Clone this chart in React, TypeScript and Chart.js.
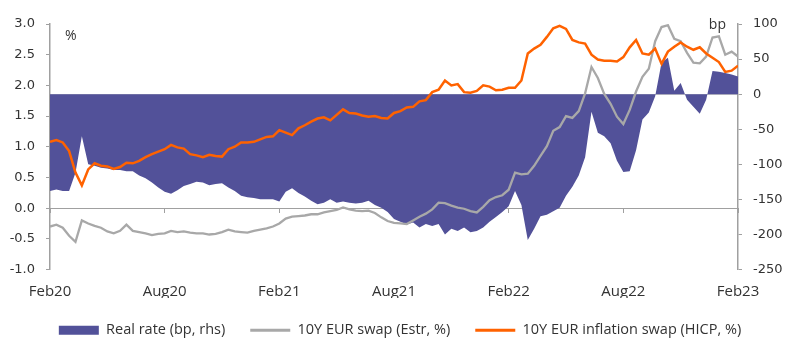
import React, { useEffect, useRef } from "react";
import { Chart, registerables } from "chart.js";

Chart.register(...registerables);

// Three samples per month, from early Feb 2020 to early Feb 2023
const SAMPLES_PER_MONTH = 3;
const TICK_LABELS = ["Feb20", "Aug20", "Feb21", "Aug21", "Feb22", "Aug22", "Feb23"];
const TICK_EVERY_MONTHS = 6;

const SERIES_LABELS = [
  "Real rate (bp, rhs)",
  "10Y EUR swap (Estr, %)",
  "10Y EUR inflation swap (HICP, %)",
];

const REAL_RATE_BP = [
  -138, -136, -138, -138, -112, -60, -100, -102, -105, -106,
  -108, -108, -110, -110, -116, -120, -126, -133, -139, -142,
  -137, -131, -128, -125, -126, -130, -128, -127, -133, -138,
  -145, -147, -148, -150, -150, -150, -153, -139, -134, -141,
  -146, -152, -157, -155, -150, -155, -153, -155, -156, -155,
  -152, -158, -162, -168, -178, -182, -186, -183, -190, -185,
  -188, -185, -200, -192, -195, -190, -197, -195, -190, -182,
  -175, -168, -160, -138, -158, -208, -192, -174, -172, -167,
  -162, -145, -132, -116, -90, -25, -55, -60, -70, -95,
  -111, -110, -80, -36, -26, -3, 45, 52, 5, 16,
  -8, -18, -28, -8, 33, 32, 30, 28, 25,
];

const SWAP_10Y = [
  -0.30, -0.27, -0.32, -0.45, -0.55, -0.20, -0.25, -0.29, -0.32, -0.38,
  -0.41, -0.37, -0.27, -0.37, -0.39, -0.41, -0.44, -0.42, -0.41, -0.37,
  -0.39, -0.38, -0.40, -0.41, -0.41, -0.43, -0.42, -0.39, -0.35, -0.38,
  -0.39, -0.40, -0.37, -0.35, -0.33, -0.30, -0.25, -0.17, -0.14, -0.13,
  -0.12, -0.10, -0.10, -0.07, -0.05, -0.03, 0.01, -0.02, -0.04, -0.05,
  -0.04, -0.08, -0.15, -0.21, -0.24, -0.25, -0.26, -0.20, -0.14, -0.09,
  -0.02, 0.09, 0.08, 0.04, 0.01, -0.01, -0.05, -0.07, 0.02, 0.13,
  0.18, 0.21, 0.30, 0.58, 0.55, 0.56, 0.69, 0.85, 1.01, 1.26,
  1.32, 1.50, 1.47, 1.58, 1.87, 2.30, 2.12, 1.86, 1.70, 1.49,
  1.37, 1.60, 1.90, 2.14, 2.27, 2.72, 2.95, 2.98, 2.76, 2.72,
  2.53, 2.37, 2.36, 2.47, 2.78, 2.80, 2.50, 2.55, 2.47,
];

const INFLATION_SWAP_10Y = [
  1.08, 1.11, 1.07, 0.93, 0.58, 0.37, 0.63, 0.73, 0.69, 0.68,
  0.64, 0.67, 0.74, 0.73, 0.77, 0.83, 0.88, 0.92, 0.96, 1.03,
  0.99, 0.97, 0.88, 0.86, 0.83, 0.87, 0.85, 0.84, 0.96, 1.00,
  1.07, 1.07, 1.08, 1.12, 1.16, 1.17, 1.27, 1.23, 1.19, 1.30,
  1.35, 1.41, 1.46, 1.48, 1.43, 1.52, 1.61, 1.55, 1.54, 1.51,
  1.49, 1.50, 1.47, 1.46, 1.55, 1.58, 1.64, 1.65, 1.74, 1.76,
  1.89, 1.93, 2.08, 2.00, 2.02, 1.89, 1.88, 1.91, 2.00, 1.98,
  1.92, 1.93, 1.96, 1.96, 2.08, 2.52, 2.60, 2.66, 2.79, 2.93,
  2.97, 2.92, 2.74, 2.70, 2.68, 2.50, 2.42, 2.40, 2.40, 2.39,
  2.46, 2.62, 2.74, 2.52, 2.50, 2.60, 2.35, 2.55, 2.63, 2.70,
  2.63, 2.58, 2.62, 2.52, 2.45, 2.38, 2.22, 2.24, 2.32,
];

const PURPLE = "#525199";
const GREY_LINE = "#a8a8a8";
const ORANGE = "#ff6200";
const AXIS = "#a0a0a0";
const TEXT = "#333333";

const toXY = (arr: number[]) => arr.map((y, i) => ({ x: i, y }));

const unitLabels = {
  id: "unitLabels",
  afterDraw(chart: any) {
    const { ctx, chartArea } = chart;
    ctx.save();
    ctx.fillStyle = TEXT;
    ctx.font = '14px "Open Sans"';
    ctx.textBaseline = "alphabetic";
    ctx.textAlign = "left";
    ctx.fillText("%", chartArea.left + 15, chartArea.top + 16);
    ctx.textAlign = "right";
    ctx.fillText("bp", chartArea.right - 12, chartArea.top + 5);
    ctx.restore();
  },
};

export default function App() {
  const ref = useRef<HTMLCanvasElement | null>(null);

  useEffect(() => {
    if (!ref.current) return;
    const lastIndex = REAL_RATE_BP.length - 1;
    const step = SAMPLES_PER_MONTH * TICK_EVERY_MONTHS;
    const chart = new Chart(ref.current, {
      type: "line",
      data: {
        datasets: [
          {
            label: SERIES_LABELS[0],
            data: toXY(REAL_RATE_BP),
            xAxisID: "x",
            yAxisID: "y1",
            borderWidth: 0,
            borderColor: PURPLE,
            backgroundColor: PURPLE,
            fill: "origin",
            pointRadius: 0,
            order: 3,
          },
          {
            label: SERIES_LABELS[1],
            data: toXY(SWAP_10Y),
            xAxisID: "x",
            yAxisID: "y",
            borderColor: GREY_LINE,
            backgroundColor: GREY_LINE,
            borderWidth: 2.3,
            pointRadius: 0,
            fill: false,
            order: 2,
          },
          {
            label: SERIES_LABELS[2],
            data: toXY(INFLATION_SWAP_10Y),
            xAxisID: "x",
            yAxisID: "y",
            borderColor: ORANGE,
            backgroundColor: ORANGE,
            borderWidth: 2.5,
            pointRadius: 0,
            fill: false,
            order: 1,
          },
        ],
      },
      options: {
        animation: false,
        responsive: false,
        maintainAspectRatio: false,
        layout: { padding: { top: 24, left: 0, right: 0, bottom: 4.5 } },
        plugins: {
          tooltip: { enabled: false },
          legend: {
            position: "bottom",
            labels: {
              usePointStyle: true,
              pointStyleWidth: 40,
              boxHeight: 9,
              padding: 25,
              color: TEXT,
              font: { family: '"Open Sans"', size: 14.5 },
              generateLabels: (c: any) =>
                c.data.datasets.map((ds: any, i: number) => ({
                  text: ds.label,
                  fillStyle: ds.borderColor,
                  strokeStyle: ds.borderColor,
                  lineWidth: i === 0 ? 0 : 3,
                  pointStyle: i === 0 ? "rect" : "line",
                  hidden: false,
                  datasetIndex: i,
                  fontColor: TEXT,
                })),
            },
          },
        },
        scales: {
          x: {
            type: "linear",
            position: "bottom",
            min: 0,
            max: lastIndex,
            grid: { display: false, drawTicks: false },
            border: { display: false },
            ticks: {
              stepSize: step,
              padding: 13,
              color: TEXT,
              font: { family: '"Open Sans"', size: 15 },
              maxRotation: 0,
              autoSkip: false,
              callback: (v: any) => {
                const k = Math.round(Number(v) / step);
                return Number(v) % step === 0 ? TICK_LABELS[k] : "";
              },
            },
            afterFit: (s: any) => {
              s.height = 28.5;
            },
          },
          x0: {
            type: "linear",
            position: { y: 0 } as any,
            min: 0,
            max: lastIndex,
            grid: {
              display: true,
              drawOnChartArea: false,
              drawTicks: true,
              tickLength: 4,
              tickColor: AXIS,
              color: AXIS,
            },
            border: { display: true, color: AXIS, width: 1 },
            ticks: { display: false, stepSize: step },
          },
          y: {
            type: "linear",
            position: "left",
            min: -1,
            max: 3,
            grid: {
              drawOnChartArea: false,
              drawTicks: true,
              tickLength: 4,
              tickColor: AXIS,
              color: AXIS,
            },
            border: { display: true, color: AXIS, width: 1.5 },
            ticks: {
              stepSize: 0.5,
              padding: 11,
              color: TEXT,
              font: { family: '"DejaVu Sans"', size: 13 },
              callback: (v: any) => Number(v).toFixed(1),
            },
            afterFit: (s: any) => {
              s.width = 50;
            },
          },
          y1: {
            type: "linear",
            position: "right",
            min: -250,
            max: 100,
            grid: {
              drawOnChartArea: true,
              drawTicks: true,
              tickLength: 4,
              tickColor: AXIS,
              color: (c: any) => (c.tick && c.tick.value === 0 ? "#c8c8c8" : "rgba(0,0,0,0)"),
            },
            border: { display: true, color: AXIS, width: 1.5 },
            ticks: {
              stepSize: 50,
              padding: 11,
              color: TEXT,
              font: { family: '"DejaVu Sans"', size: 13 },
              callback: (v: any) => String(v),
            },
            afterFit: (s: any) => {
              s.width = 62;
            },
          },
        },
      },
      plugins: [unitLabels],
    });
    return () => chart.destroy();
  }, []);

  return (
    <div style={{ position: "fixed", left: 0, top: 0, width: 800, height: 352, background: "#fff" }}>
      <canvas ref={ref} width={800} height={352} style={{ display: "block", width: 800, height: 352 }} />
    </div>
  );
}
